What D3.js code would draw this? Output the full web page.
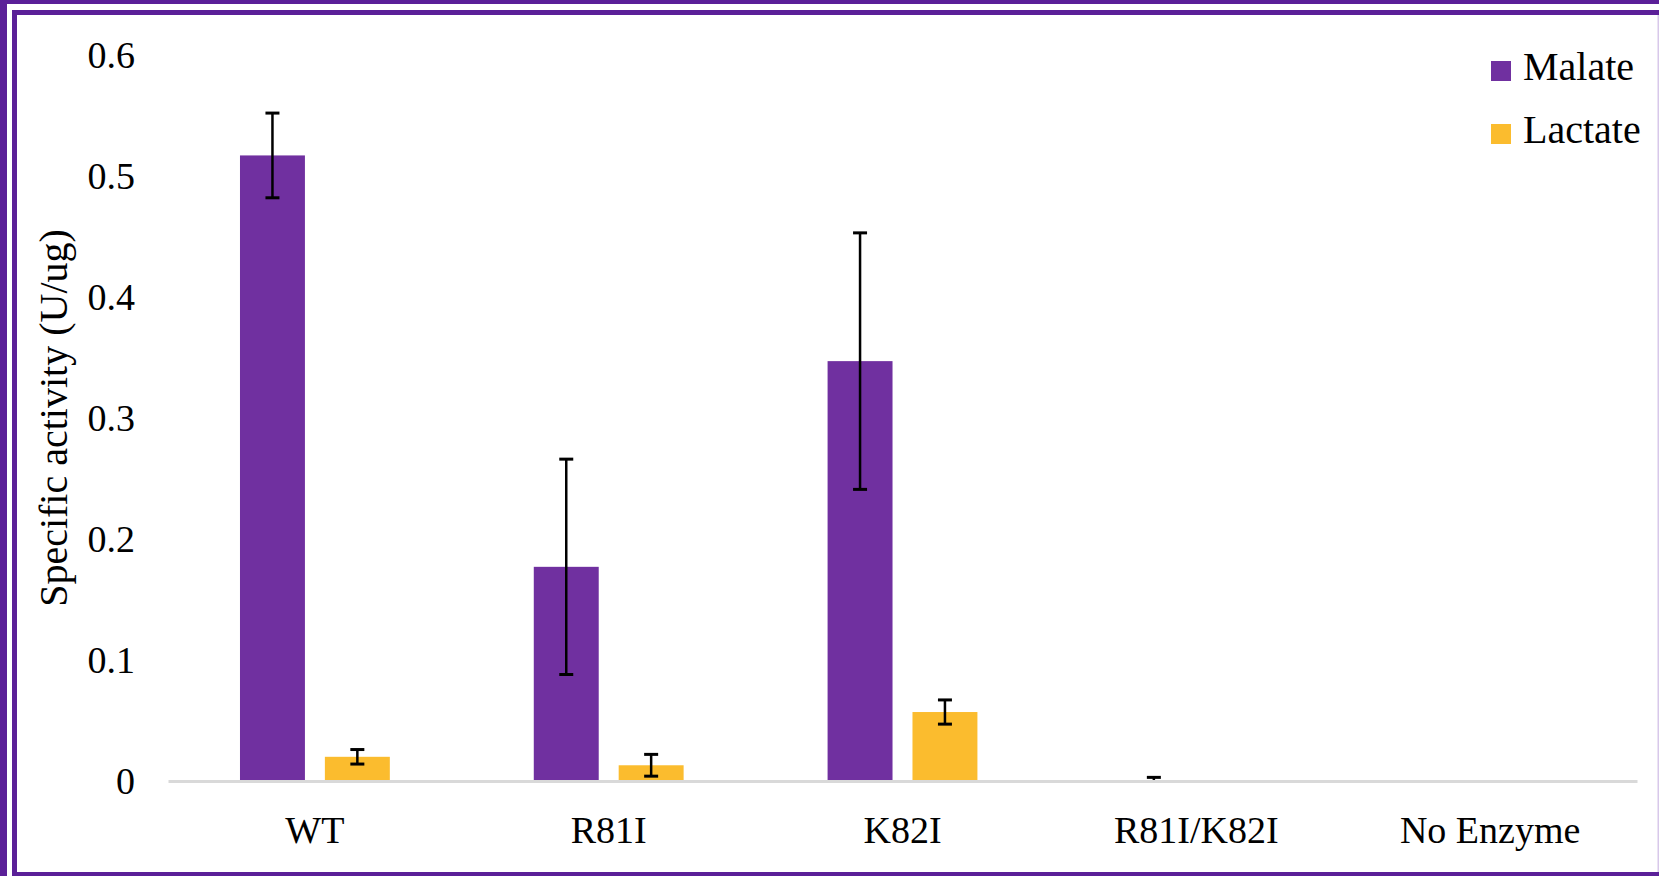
<!DOCTYPE html>
<html>
<head>
<meta charset="utf-8">
<script src="https://cdn.jsdelivr.net/npm/d3@7"></script>
<style>
    body { margin: 0; background: #fff; }
    svg { display: block; }
</style>
</head>
<body>
<div id="chart"></div>
<script>
// data
var categories = ["WT", "R81I", "K82I", "R81I/K82I", "No Enzyme"];
var series = ["Malate", "Lactate"];
var malate = [0.517, 0.177, 0.347, 0, 0];
var malateErr = [0.035, 0.089, 0.106, 0.003, 0];
var lactate = [0.020, 0.013, 0.057, 0, 0];
var lactateErr = [0.006, 0.009, 0.010, 0, 0];
var yTicks = [0, 0.1, 0.2, 0.3, 0.4, 0.5, 0.6];

var colors = {Malate: "#7030A0", Lactate: "#FBBC2E"};
var serif = "'Liberation Serif', 'Times New Roman', Times, serif";

var W = 1659, H = 876;

var svg = d3.select("#chart")
    .append("svg")
    .attr("width", W)
    .attr("height", H);

// frame: double purple border on the left and top
var frame = svg.append("g").attr("class", "frame");
frame.append("rect").attr("x", 0).attr("y", 0).attr("width", 7).attr("height", H).attr("fill", "#5B2098");
frame.append("rect").attr("x", 0).attr("y", 0).attr("width", W).attr("height", 4).attr("fill", "#5B2098");
frame.append("rect").attr("x", 12).attr("y", 10).attr("width", 5).attr("height", H - 10).attr("fill", "#5B2098");
frame.append("rect").attr("x", 12).attr("y", 10).attr("width", W - 12).attr("height", 5).attr("fill", "#5B2098");
frame.append("rect").attr("x", 12).attr("y", 872).attr("width", W - 12).attr("height", 4).attr("fill", "#5B2098");
frame.append("rect").attr("x", W - 1.5).attr("y", 15).attr("width", 1.5).attr("height", H - 19).attr("fill", "#D8C8EA");

// scales
var x = d3.scaleBand()
    .domain(categories)
    .range([168, 1637]);

var bw = x.bandwidth();
var xSub = d3.scaleBand()
    .domain(series)
    .range([bw * 0.245, bw * 0.755])
    .paddingInner(0.235);

var y = d3.scaleLinear()
    .domain([0, 0.6])
    .range([781, 55]);

// y axis labels (no line, no ticks)
var yAxis = svg.append("g")
    .attr("class", "axis y-axis")
    .attr("transform", "translate(168,0)")
    .call(d3.axisLeft(y).tickValues(yTicks).tickSize(0).tickPadding(33)
        .tickFormat(function (d) { return d === 0 ? "0" : d3.format(".1f")(d); }));
yAxis.attr("font-family", serif);
yAxis.select(".domain").remove();
yAxis.selectAll("text")
    .attr("font-size", 38)
    .attr("dy", "0.34em");

// bars
var rows = categories.map(function (c, i) {
    return [
        {cat: c, key: "Malate", value: malate[i], err: malateErr[i]},
        {cat: c, key: "Lactate", value: lactate[i], err: lactateErr[i]}
    ];
});

var groups = svg.append("g")
    .selectAll("g")
    .data(rows)
    .enter()
    .append("g")
    .attr("transform", function (d) { return "translate(" + x(d[0].cat) + ",0)"; });

groups.selectAll("rect")
    .data(function (d) { return d.filter(function (e) { return e.value > 0; }); })
    .enter()
    .append("rect")
    .attr("x", function (d) { return xSub(d.key); })
    .attr("y", function (d) { return y(d.value); })
    .attr("width", xSub.bandwidth())
    .attr("height", function (d) { return y(0) - y(d.value); })
    .attr("fill", function (d) { return colors[d.key]; });

// x axis baseline
var xAxis = svg.append("g")
    .attr("class", "axis x-axis")
    .attr("transform", "translate(0,781)")
    .call(d3.axisBottom(x).tickSize(0).tickPadding(35));
xAxis.attr("font-family", serif);
xAxis.select(".domain")
    .attr("stroke", "#D9D9D9")
    .attr("stroke-width", 3);
xAxis.selectAll("text")
    .attr("font-size", 38)
    .attr("dy", "0.71em");

// error bars
var errs = groups.selectAll("g.err")
    .data(function (d) { return d.filter(function (e) { return e.err > 0; }); })
    .enter()
    .append("g")
    .attr("class", "err")
    .attr("stroke", "#000");

var cap = 7;
function cx(d) { return xSub(d.key) + xSub.bandwidth() / 2; }
function hi(d) { return y(d.value + d.err); }
function lo(d) { return y(Math.max(0, d.value - d.err)); }
errs.append("line")
    .attr("x1", cx).attr("x2", cx)
    .attr("y1", hi).attr("y2", lo)
    .attr("stroke-width", 2.5);
errs.append("line")
    .attr("x1", function (d) { return cx(d) - cap; })
    .attr("x2", function (d) { return cx(d) + cap; })
    .attr("y1", hi).attr("y2", hi)
    .attr("stroke-width", 3);
errs.filter(function (d) { return d.value > 0; })
    .append("line")
    .attr("x1", function (d) { return cx(d) - cap; })
    .attr("x2", function (d) { return cx(d) + cap; })
    .attr("y1", lo).attr("y2", lo)
    .attr("stroke-width", 3);

// y axis title
svg.append("text")
    .attr("transform", "translate(67,418) rotate(-90)")
    .attr("text-anchor", "middle")
    .attr("font-family", serif)
    .attr("font-size", 40)
    .text("Specific activity (U/ug)");

// legend
var legend = svg.append("g")
    .attr("class", "legend")
    .selectAll("g")
    .data(series)
    .enter()
    .append("g")
    .attr("transform", function (d, i) { return "translate(1491," + (61 + i * 63) + ")"; });
legend.append("rect")
    .attr("width", 20)
    .attr("height", 20)
    .attr("fill", function (d) { return colors[d]; });
legend.append("text")
    .attr("x", 32)
    .attr("y", 19)
    .attr("font-family", serif)
    .attr("font-size", 40)
    .text(function (d) { return d; });
</script>
</body>
</html>
